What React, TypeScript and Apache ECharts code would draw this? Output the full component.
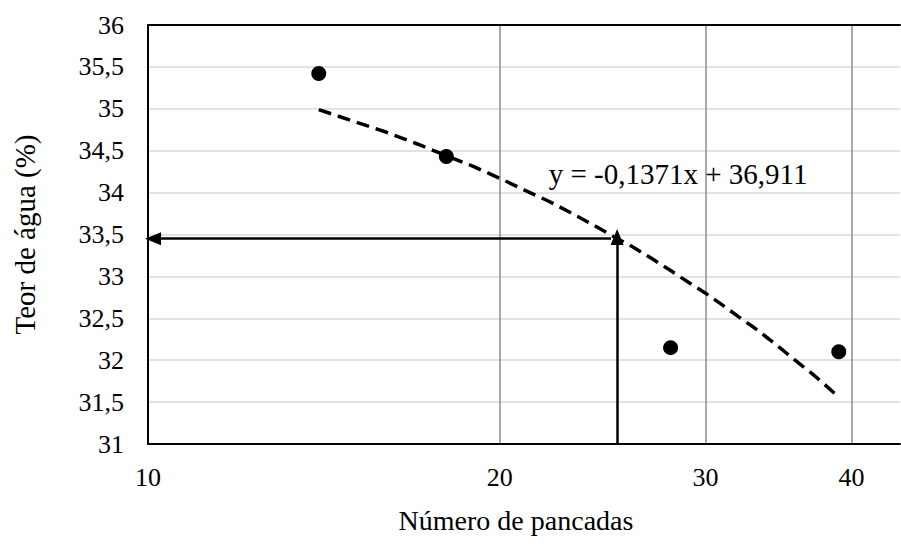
import React, { useEffect, useRef } from "react";
import * as echarts from "echarts";

const xTicks = [10, 20, 30, 40];
const yTickMin = 31;
const yTickMax = 36;
const pointsX = [14, 18, 28, 39];
const pointsY = [35.42, 34.43, 32.15, 32.1];
const trendX = [14, 15, 16, 17, 18, 19, 20, 21, 22, 23, 24, 25, 26, 27, 28, 29, 30, 31, 32, 33, 34, 35, 36, 37, 38, 39];
const trendY = [34.99, 34.85, 34.72, 34.58, 34.44, 34.31, 34.17, 34.03, 33.9, 33.76, 33.62, 33.48, 33.35, 33.21, 33.07, 32.93, 32.8, 32.66, 32.52, 32.39, 32.25, 32.11, 31.97, 31.84, 31.7, 31.56];
const equationText = "y = -0,1371x + 36,911";
const xTitle = "Número de pancadas";
const yTitle = "Teor de água (%)";
const readX = 25.2;
const readY = 33.47;

const FONT = "Liberation Serif";

export default function App() {
  const ref = useRef<HTMLDivElement>(null);
  useEffect(() => {
    if (!ref.current) return;
    const chart = echarts.init(ref.current, null, { renderer: "svg" });
    const tickRich = { t: { fontFamily: FONT, fontSize: 26, color: "#000" } };
    chart.setOption({
      animation: false,
      backgroundColor: "#fff",
      textStyle: { fontFamily: FONT, color: "#000" },
      grid: { left: 148, right: 1, top: 25, bottom: 103, containLabel: false, outerBoundsMode: "none" },
      xAxis: [
        {
          type: "log",
          logBase: 10,
          min: 10,
          max: 44,
          name: xTitle,
          nameLocation: "middle",
          nameGap: 62,
          nameTextStyle: { fontFamily: FONT, color: "#000", fontSize: 28, padding: [0, 16, 0, 0] },
          axisLine: { show: true, lineStyle: { color: "#000", width: 2 } },
          axisTick: { show: false, customValues: xTicks },
          axisLabel: {
            fontFamily: FONT,
            color: "#000",
            fontSize: 26,
            margin: 20,
            customValues: xTicks,
            formatter: (v: number) => "{t|" + String(v) + "}",
            rich: tickRich,
          },
          splitLine: { show: true, lineStyle: { color: "#8c8c8c", width: 1.5 } },
          minorSplitLine: { show: false },
        },
        {
          type: "log",
          logBase: 10,
          min: 10,
          max: 44,
          position: "top",
          axisLine: { show: true, lineStyle: { color: "#000", width: 2 } },
          axisTick: { show: false },
          axisLabel: { show: false },
          splitLine: { show: false },
        },
      ],
      yAxis: {
        type: "value",
        min: yTickMin,
        max: yTickMax,
        interval: 0.5,
        name: yTitle,
        nameLocation: "middle",
        nameRotate: 90,
        nameGap: 109,
        nameTextStyle: { fontFamily: FONT, color: "#000", fontSize: 29 },
        axisLine: { show: true, lineStyle: { color: "#000", width: 2 } },
        axisTick: { show: false },
        axisLabel: {
          fontFamily: FONT,
          color: "#000",
          fontSize: 26,
          margin: 24,
          formatter: (v: number) => "{t|" + String(v).replace(".", ",") + "}",
          rich: tickRich,
        },
        splitLine: { show: true, lineStyle: { color: "#d9d9d9", width: 1.5 } },
      },
      series: [
        {
          type: "line",
          data: trendX.map((x, i) => [x, trendY[i]]),
          showSymbol: false,
          symbol: "none",
          lineStyle: { color: "#000", width: 3.5, type: [13, 7] },
          z: 3,
          markPoint: {
            symbol: "circle",
            symbolSize: 1,
            itemStyle: { color: "rgba(0,0,0,0)" },
            label: {
              show: true,
              position: "right",
              distance: 0,
              formatter: equationText,
              fontFamily: FONT,
              color: "#000",
              fontSize: 29,
            },
            data: [{ coord: [22, 34.22] }],
          },
        },
        {
          type: "scatter",
          data: pointsX.map((x, i) => [x, pointsY[i]]),
          symbol: "circle",
          symbolSize: 15,
          itemStyle: { color: "#000", opacity: 1 },
          z: 4,
          markLine: {
            silent: true,
            symbol: ["none", "triangle"],
            symbolSize: [13, 16],
            lineStyle: { color: "#000", width: 2.5, type: "solid", opacity: 1 },
            itemStyle: { color: "#000" },
            label: { show: false },
            data: [
              [{ coord: [readX, yTickMin] }, { coord: [readX, readY] }],
              [{ coord: [24.9, readY - 0.02] }, { coord: [10.1, readY - 0.02] }],
            ],
          },
        },
      ],
    });
    return () => chart.dispose();
  }, []);
  return (
    <div
      ref={ref}
      style={{ position: "fixed", left: 0, top: 0, width: 901, height: 547, background: "#fff" }}
    />
  );
}
